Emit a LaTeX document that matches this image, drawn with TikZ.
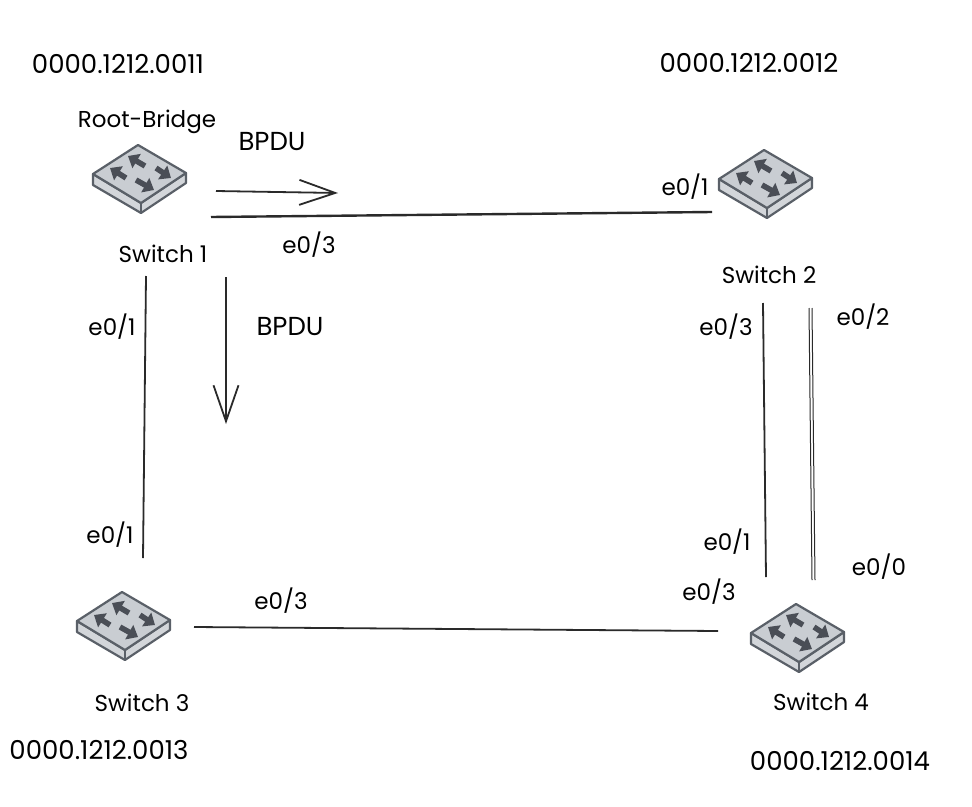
\documentclass[tikz,border=0pt]{standalone}
\usepackage{fontspec}
\setmainfont{Poppins}
\usetikzlibrary{arrows.meta}
\definecolor{swface}{HTML}{C9CDD2}
\definecolor{swside}{HTML}{D3D6DA}
\definecolor{swedge}{HTML}{5A6068}
\definecolor{swarrow}{HTML}{4A4E56}
\definecolor{inkline}{HTML}{2A2A2A}
\tikzset{
  x=1pt,y=-1pt,
  switchbox/.style={inner sep=0pt,minimum width=94pt,minimum height=68pt},
  swedgeline/.style={draw=swedge,line width=2.2pt,line join=round},
  swdir/.style={draw=swarrow,line width=5.5pt,-{Triangle[length=10pt,width=16pt,fill=swarrow]}},
  lbl/.style={font=\fontsize{23}{26}\selectfont,text=black,inner sep=0pt},
  bpdu/.style={font=\fontsize{26}{28}\selectfont,text=black,inner sep=0pt},
  addr/.style={font=\fontsize{26}{28}\selectfont,text=black,inner sep=0pt},
  link/.style={draw=inkline,line width=1.8pt},
  biglink/.style={draw=inkline,line width=2.4pt},
  twin/.style={draw=inkline,line width=1pt},
  flow/.style={draw=inkline,line width=1.8pt,-{Straight Barb[length=36pt,width=25pt,line width=1.8pt]}},
  switchicon/.pic={
    \path[swedgeline,fill=swside] (-46,-5) -- (-46,6) -- (2,34) -- (47,4) -- (47,-6) -- (2,24) -- cycle;
    \path[swedgeline] (2,24) -- (2,34);
    \path[swedgeline,fill=swface] (-1,-34) -- (47,-6) -- (2,24) -- (-46,-5) -- cycle;
    \path[swdir] (6,-13) -- (-11,-23);
    \path[swdir] (-13,-1) -- (-29,-11);
    \path[swdir] (17,-11) -- (32,-1);
    \path[swdir] (-3,1) -- (15,11);
  }
}
\begin{document}
\begin{tikzpicture}
\useasboundingbox (0,0) rectangle (972,806);
\fill[white] (0,0) rectangle (972,806);
% switches
\node[switchbox] (s1) at (139,179) {};
\node[switchbox] (s2) at (765,184) {};
\node[switchbox] (s3) at (123,626) {};
\node[switchbox] (s4) at (797,638) {};
\pic at (s1) {switchicon};
\pic at (s2) {switchicon};
\pic at (s3) {switchicon};
\pic at (s4) {switchicon};
% links
\draw[biglink] ([shift={(72,38)}]s1.center) -- ([shift={(-53,28)}]s2.center);
\draw[link] ([shift={(7,97)}]s1.center) -- ([shift={(20,-68)}]s3.center);
\draw[link] ([shift={(-2,119)}]s2.center) -- ([shift={(-31,-61)}]s4.center);
\draw[twin] ([shift={(44,124)}]s2.center) -- ([shift={(15,-58)}]s4.center);
\draw[twin] ([shift={(47,124)}]s2.center) -- ([shift={(18,-58)}]s4.center);
\draw[link] ([shift={(71,1)}]s3.center) -- ([shift={(-79,-7)}]s4.center);
% BPDU arrows
\coordinate (f1a) at (216,191);
\coordinate (f1b) at (338,193);
\coordinate (f2a) at (226,277);
\coordinate (f2b) at (226,424);
\draw[flow] (f1a) -- (f1b);
\draw[flow] (f2a) -- (f2b);
% labels
\node[addr] (a1) at (118,64) {0000.1212.0011};
\node[addr] (a2) at (749,63) {0000.1212.0012};
\node[addr] (a3) at (99,750) {0000.1212.0013};
\node[addr] (a4) at (840,761) {0000.1212.0014};
\node[lbl] (rb) at (147,122) {Root-Bridge};
\node[bpdu] (b1) at (272,142) {BPDU};
\node[bpdu] (b2) at (290,327) {BPDU};
\node[lbl] (n1) at (163,254) {Switch 1};
\node[lbl] (n2) at (769,275) {Switch 2};
\node[lbl] (n3) at (142,703) {Switch 3};
\node[lbl] (n4) at (821,702) {Switch 4};
\node[lbl] (p1) at (685,187) {e0/1};
\node[lbl] (p2) at (309,245) {e0/3};
\node[lbl] (p3) at (112,327) {e0/1};
\node[lbl] (p4) at (726,327) {e0/3};
\node[lbl] (p5) at (863,317) {e0/2};
\node[lbl] (p6) at (110,535) {e0/1};
\node[lbl] (p7) at (727,542) {e0/1};
\node[lbl] (p8) at (879,567) {e0/0};
\node[lbl] (p9) at (709,592) {e0/3};
\node[lbl] (p10) at (281,601) {e0/3};
\end{tikzpicture}
\end{document}
